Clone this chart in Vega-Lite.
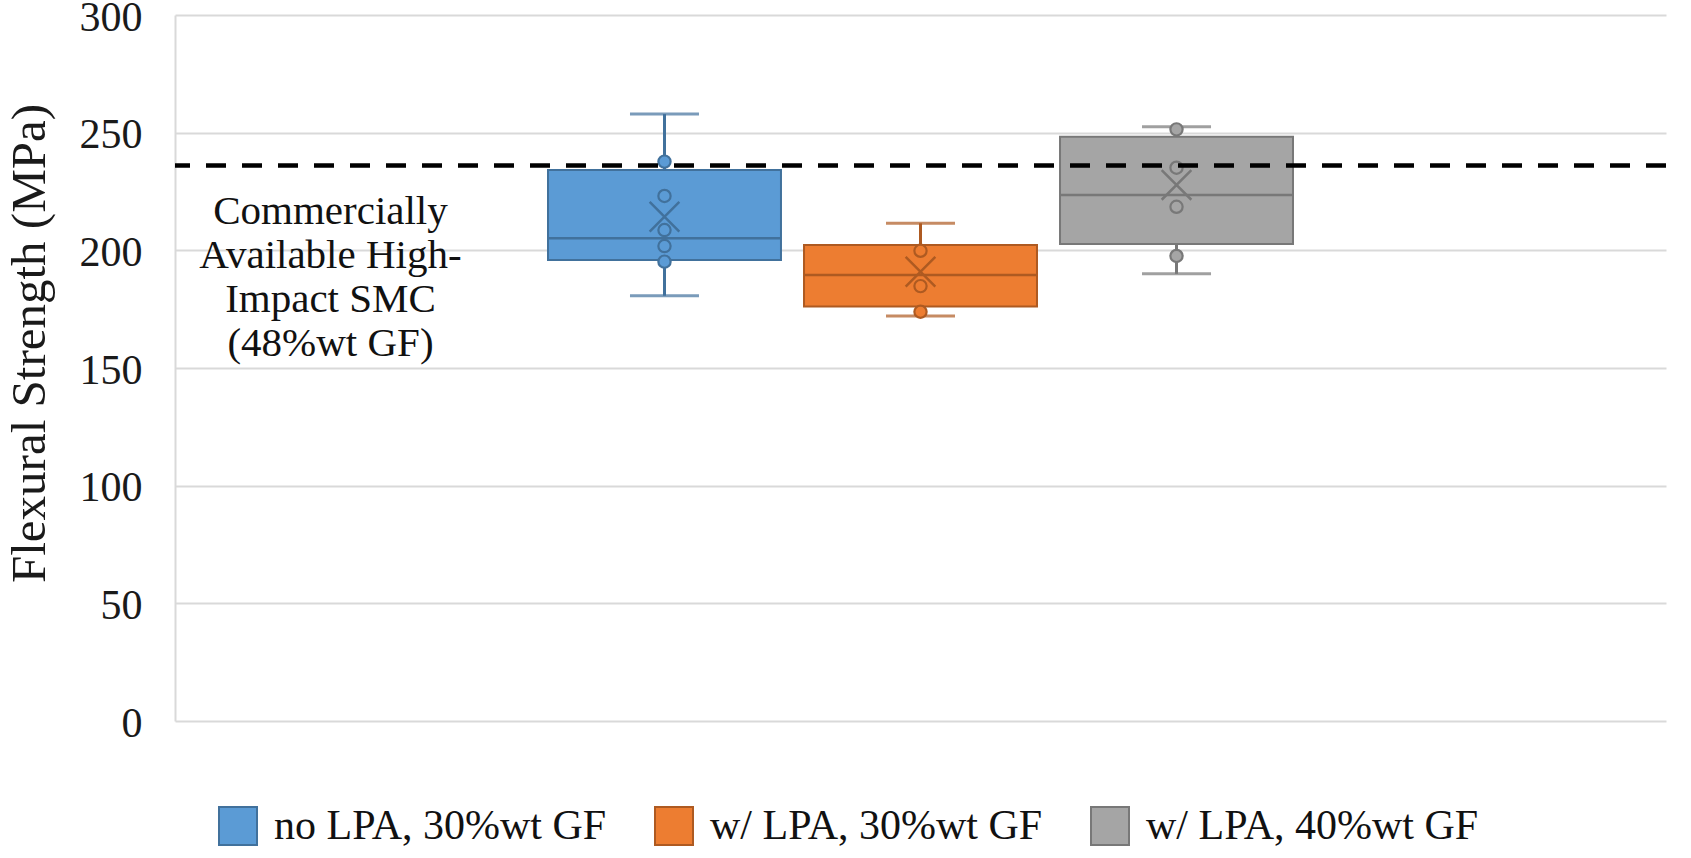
{
  "$schema": "https://vega.github.io/schema/vega-lite/v6.json",
  "width": 1491,
  "height": 706,
  "autosize": {"type": "none"},
  "padding": {"left": 175, "top": 15, "right": 25, "bottom": 137},
  "background": "white",
  "datasets": {
    "stats": [
      {"series": "no LPA, 30%wt GF", "min": 180.7, "q1": 195.9, "median": 205.1, "q3": 234.1, "max": 257.9, "mean": 214.3},
      {"series": "w/ LPA, 30%wt GF", "min": 172.1, "q1": 176.1, "median": 189.5, "q3": 202.3, "max": 211.5, "mean": 190.9},
      {"series": "w/ LPA, 40%wt GF", "min": 190.0, "q1": 202.7, "median": 223.5, "q3": 248.3, "max": 252.5, "mean": 227.8}
    ],
    "points": [
      {"series": "no LPA, 30%wt GF", "value": 237.7},
      {"series": "no LPA, 30%wt GF", "value": 223.1},
      {"series": "no LPA, 30%wt GF", "value": 208.6},
      {"series": "no LPA, 30%wt GF", "value": 201.8},
      {"series": "no LPA, 30%wt GF", "value": 195.2},
      {"series": "w/ LPA, 30%wt GF", "value": 199.8},
      {"series": "w/ LPA, 30%wt GF", "value": 184.8},
      {"series": "w/ LPA, 30%wt GF", "value": 173.9},
      {"series": "w/ LPA, 40%wt GF", "value": 251.4},
      {"series": "w/ LPA, 40%wt GF", "value": 235.1},
      {"series": "w/ LPA, 40%wt GF", "value": 218.5},
      {"series": "w/ LPA, 40%wt GF", "value": 197.6}
    ],
    "ref": [
      {"value": 236, "label": "Commercially\nAvailable High-\nImpact SMC\n(48%wt GF)"}
    ]
  },
  "layer": [
    {
      "data": {"name": "stats"},
      "mark": {"type": "bar", "strokeWidth": 2},
      "encoding": {
        "x": {"field": "series", "type": "nominal", "axis": null,
              "scale": {"domain": ["_left", "no LPA, 30%wt GF", "w/ LPA, 30%wt GF", "w/ LPA, 40%wt GF", "_right"], "paddingInner": 0.09, "paddingOuter": 0.457}},
        "y": {"field": "q1", "type": "quantitative", "title": "Flexural Strength (MPa)", "scale": {"domain": [0, 300]}},
        "y2": {"field": "q3"},
        "fill": {"field": "series", "type": "nominal",
                 "scale": {"domain": ["no LPA, 30%wt GF", "w/ LPA, 30%wt GF", "w/ LPA, 40%wt GF"], "range": ["#5B9BD5", "#ED7D31", "#A5A5A5"]},
                 "legend": {"title": null, "symbolType": "square", "orient": "none", "direction": "horizontal"}},
        "stroke": {"field": "series", "type": "nominal",
                   "scale": {"domain": ["no LPA, 30%wt GF", "w/ LPA, 30%wt GF", "w/ LPA, 40%wt GF"], "range": ["#41719C", "#AE5A21", "#787878"]},
                   "legend": {"title": null, "symbolType": "square", "orient": "none", "direction": "horizontal"}}
      }
    },
    {
      "data": {"name": "stats"},
      "mark": {"type": "rule", "strokeWidth": 3},
      "encoding": {
        "x": {"field": "series", "type": "nominal", "axis": null},
        "y": {"field": "q3", "type": "quantitative", "title": "Flexural Strength (MPa)"},
        "y2": {"field": "max"},
        "stroke": {"field": "series", "type": "nominal"}
      }
    },
    {
      "data": {"name": "stats"},
      "mark": {"type": "rule", "strokeWidth": 3},
      "encoding": {
        "x": {"field": "series", "type": "nominal", "axis": null},
        "y": {"field": "min", "type": "quantitative", "title": "Flexural Strength (MPa)"},
        "y2": {"field": "q1"},
        "stroke": {"field": "series", "type": "nominal"}
      }
    },
    {
      "data": {"name": "stats"},
      "mark": {"type": "tick", "size": 69, "thickness": 0, "filled": false, "strokeWidth": 3},
      "encoding": {
        "x": {"field": "series", "type": "nominal", "axis": null},
        "y": {"field": "max", "type": "quantitative", "title": "Flexural Strength (MPa)"},
        "stroke": {"field": "series", "type": "nominal"}
      }
    },
    {
      "data": {"name": "stats"},
      "mark": {"type": "tick", "size": 69, "thickness": 0, "filled": false, "strokeWidth": 3},
      "encoding": {
        "x": {"field": "series", "type": "nominal", "axis": null},
        "y": {"field": "min", "type": "quantitative", "title": "Flexural Strength (MPa)"},
        "stroke": {"field": "series", "type": "nominal"}
      }
    },
    {
      "data": {"name": "stats"},
      "mark": {"type": "bar", "filled": false, "strokeWidth": 2.5},
      "encoding": {
        "x": {"field": "series", "type": "nominal", "axis": null},
        "y": {"field": "median", "type": "quantitative", "title": "Flexural Strength (MPa)"},
        "y2": {"field": "median"},
        "stroke": {"field": "series", "type": "nominal"}
      }
    },
    {
      "data": {"name": "points"},
      "mark": {"type": "point", "shape": "circle", "filled": true, "size": 150, "strokeWidth": 2.2, "opacity": 1},
      "encoding": {
        "x": {"field": "series", "type": "nominal", "axis": null},
        "y": {"field": "value", "type": "quantitative", "title": "Flexural Strength (MPa)"},
        "fill": {"field": "series", "type": "nominal"},
        "stroke": {"field": "series", "type": "nominal"}
      }
    },
    {
      "data": {"name": "stats"},
      "mark": {"type": "point", "shape": "M-1,-1L1,1M1,-1L-1,1", "filled": false, "size": 880, "strokeWidth": 2.5, "opacity": 1},
      "encoding": {
        "x": {"field": "series", "type": "nominal", "axis": null},
        "y": {"field": "mean", "type": "quantitative", "title": "Flexural Strength (MPa)"},
        "stroke": {"field": "series", "type": "nominal"}
      }
    },
    {
      "data": {"name": "ref"},
      "mark": {"type": "rule", "color": "#000000", "strokeWidth": 4.5, "strokeDash": [20, 16]},
      "encoding": {
        "y": {"field": "value", "type": "quantitative", "title": "Flexural Strength (MPa)"}
      }
    },
    {
      "data": {"name": "ref"},
      "mark": {"type": "text", "lineBreak": "\n", "align": "center", "baseline": "middle", "font": "Liberation Serif", "fontSize": 41, "lineHeight": 44, "color": "#111111", "dx": -334},
      "encoding": {
        "x": {"datum": "no LPA, 30%wt GF", "type": "nominal", "axis": null},
        "y": {"datum": 216.5, "type": "quantitative"},
        "text": {"field": "label", "type": "nominal"}
      }
    }
  ],
  "config": {
    "view": {"stroke": null},
    "font": "Liberation Serif",
    "axisY": {
      "grid": true, "gridColor": "#D9D9D9", "gridWidth": 2,
      "domain": true, "domainColor": "#D9D9D9", "domainWidth": 2,
      "ticks": false, "tickCount": 6,
      "labelPadding": 33, "labelFont": "Liberation Serif", "labelFontSize": 42, "labelColor": "#1a1a1a", "labelOffset": 2,
      "titleFont": "Liberation Serif", "titleFontSize": 49, "titleFontWeight": "normal", "titleColor": "#1a1a1a",
      "titleX": -131, "titleY": 328, "titleAngle": -90, "titleAlign": "center", "titleBaseline": "alphabetic"
    },
    "legend": {
      "orient": "none", "legendX": 42, "legendY": 790, "direction": "horizontal",
      "symbolType": "square", "symbolSize": 1444, "symbolStrokeWidth": 2,
      "labelFont": "Liberation Serif", "labelFontSize": 42, "labelColor": "#111111",
      "labelOffset": 15, "columnPadding": 44, "labelLimit": 0, "padding": 0
    }
  }
}
